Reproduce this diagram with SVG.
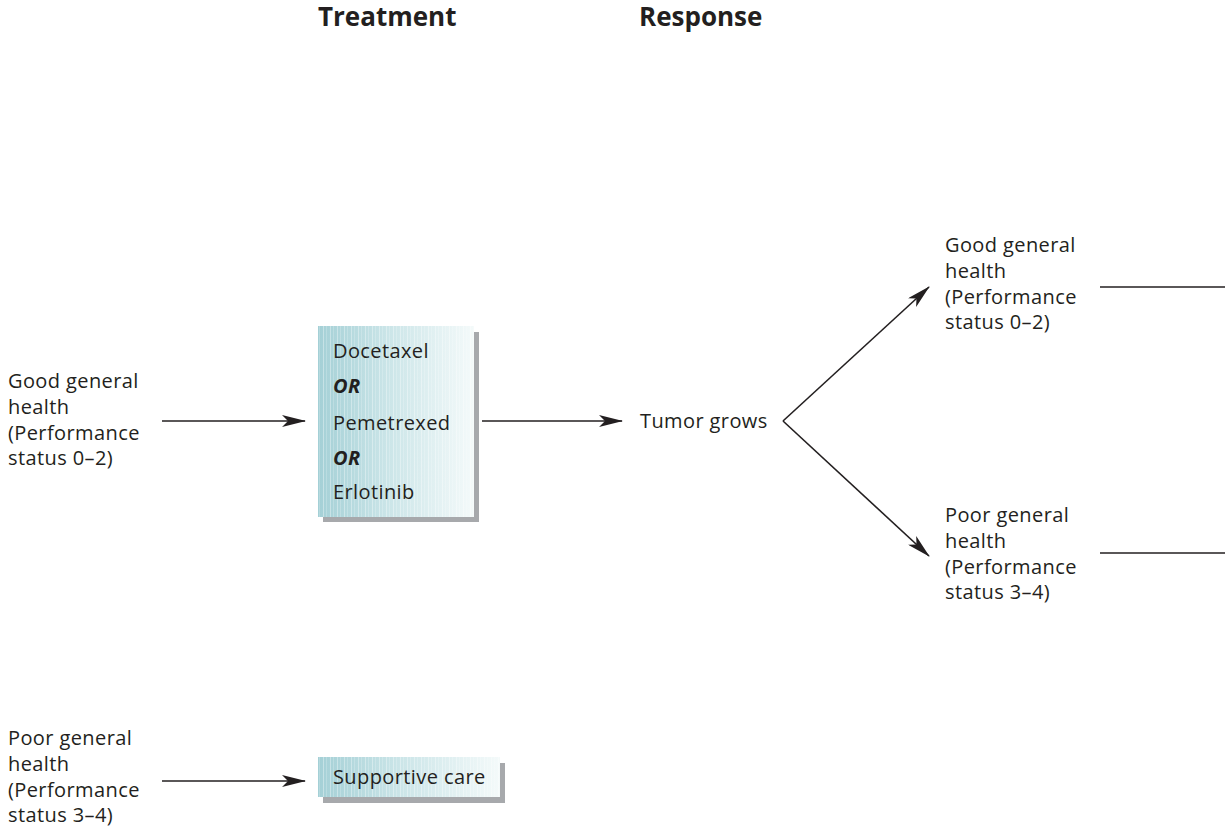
<svg xmlns="http://www.w3.org/2000/svg" width="1225" height="830" viewBox="0 0 1225 830">
  <defs>
    <linearGradient id="boxFill" x1="0" y1="0" x2="1" y2="0">
      <stop offset="0" stop-color="#a4d0d6"/>
      <stop offset="0.45" stop-color="#cbe5e8"/>
      <stop offset="1" stop-color="#f4fafa"/>
    </linearGradient>
    <!-- fine vertical grain over the box fill -->
    <pattern id="grain" width="7" height="10" patternUnits="userSpaceOnUse">
      <rect x="1" y="0" width="1" height="10" fill="#ffffff" opacity="0.35"/>
      <rect x="4" y="0" width="1" height="10" fill="#ffffff" opacity="0.2"/>
    </pattern>
    <marker id="arrow" viewBox="0 0 24 12" refX="23" refY="6" markerWidth="24" markerHeight="12" markerUnits="userSpaceOnUse" orient="auto">
      <path d="M0,0 L24,6 L0,12 L6,6 Z" fill="#231f20"/>
    </marker>
    <style>
      text { font-family: "Open Sans", "Noto Sans", "Liberation Sans", sans-serif; font-size: 20px; letter-spacing: 0.4px; fill: #231f20; }
      .head { font-weight: bold; font-size: 26px; letter-spacing: 0; }
      .or { font-weight: bold; font-style: italic; }
      .shadow { fill: #a7a9ac; }
      .box { fill: url(#boxFill); }
      .grain { fill: url(#grain); }
      .conn { stroke: #231f20; stroke-width: 1.6; fill: none; }
    </style>
  </defs>

  <g id="headers">
    <text class="head" x="318" y="26">Treatment</text>
    <text class="head" x="639" y="26">Response</text>
  </g>

  <g id="good-health-start">
    <text x="8" y="388">Good general</text>
    <text x="8" y="414">health</text>
    <text x="8" y="440">(Performance</text>
    <text x="8" y="465">status 0–2)</text>
  </g>

  <g id="chemo-box">
    <rect class="shadow" x="323" y="332" width="156" height="190"/>
    <rect class="box" x="318" y="326" width="156" height="191"/>
    <rect class="grain" x="318" y="326" width="156" height="191"/>
    <text x="333" y="358">Docetaxel</text>
    <text class="or" x="333" y="393">OR</text>
    <text x="333" y="430">Pemetrexed</text>
    <text class="or" x="333" y="465">OR</text>
    <text x="333" y="499">Erlotinib</text>
  </g>

  <g id="tumor-grows">
    <text x="640" y="428">Tumor grows</text>
  </g>

  <g id="good-health-response">
    <text x="945" y="252">Good general</text>
    <text x="945" y="278">health</text>
    <text x="945" y="304">(Performance</text>
    <text x="945" y="329">status 0–2)</text>
  </g>

  <g id="poor-health-response">
    <text x="945" y="522">Poor general</text>
    <text x="945" y="548">health</text>
    <text x="945" y="574">(Performance</text>
    <text x="945" y="599">status 3–4)</text>
  </g>

  <g id="poor-health-start">
    <text x="8" y="745">Poor general</text>
    <text x="8" y="771">health</text>
    <text x="8" y="797">(Performance</text>
    <text x="8" y="822">status 3–4)</text>
  </g>

  <g id="supportive-care">
    <rect class="shadow" x="323" y="763" width="182" height="40"/>
    <rect class="box" x="318" y="757" width="182" height="40"/>
    <rect class="grain" x="318" y="757" width="182" height="40"/>
    <text x="333" y="784">Supportive care</text>
  </g>

  <g id="connectors">
    <line class="conn" x1="162" y1="421" x2="305" y2="421" marker-end="url(#arrow)"/>
    <line class="conn" x1="482" y1="421" x2="622" y2="421" marker-end="url(#arrow)"/>
    <line class="conn" x1="783" y1="421" x2="929" y2="287" marker-end="url(#arrow)"/>
    <line class="conn" x1="783" y1="421" x2="929" y2="556" marker-end="url(#arrow)"/>
    <line class="conn" x1="1100" y1="287" x2="1225" y2="287"/>
    <line class="conn" x1="1100" y1="553" x2="1225" y2="553"/>
    <line class="conn" x1="162" y1="781" x2="305" y2="781" marker-end="url(#arrow)"/>
  </g>
</svg>
